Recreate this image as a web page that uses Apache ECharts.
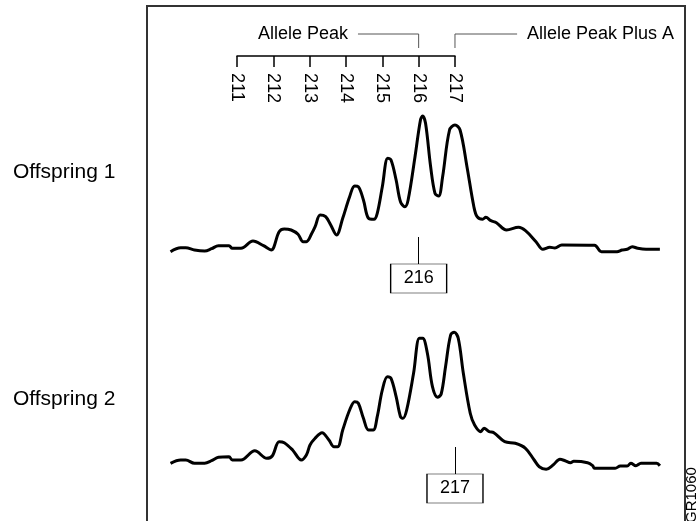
<!DOCTYPE html>
<html><head><meta charset="utf-8">
<script src="https://cdn.jsdelivr.net/npm/echarts@6/dist/echarts.min.js"></script>
<style>html,body{margin:0;padding:0;background:#fff}#c{width:699px;height:521px}</style>
</head><body><div id="c"></div>
<script>
// ---- data ----
const sizeTicks = [211, 212, 213, 214, 215, 216, 217];
const rowLabels = ['Offspring 1', 'Offspring 2'];
const calls = [216, 217];
const peakLabels = ['Allele Peak', 'Allele Peak Plus A'];
const offspring1 = [
  [209.17,8.3],[209.45,12.3],[209.59,12.3],[209.83,10],[210.11,9],[210.30,11.3],[210.49,14.3],[210.78,14.3],
  [210.87,11.7],[211.11,11.7],[211.44,19],[211.73,14.3],[211.94,10],[212.16,28.3],[212.30,31],[212.49,30],
  [212.68,25.7],[212.82,18.3],[212.91,18.3],[213.06,26.7],[213.15,33.3],[213.29,45],[213.44,43.3],[213.58,35],
  [213.74,25],[213.91,41.7],[214.10,63.3],[214.24,74],[214.34,73.3],[214.48,60],[214.62,41.7],[214.77,40.7],
  [214.86,46.7],[215.00,73.3],[215.15,101.7],[215.24,100],[215.38,80],[215.50,58.3],[215.62,53.3],[215.71,60],
  [215.90,103.3],[216.05,140],[216.11,144],[216.19,136.7],[216.33,93.3],[216.45,66.7],[216.55,64],[216.66,83.3],
  [216.85,130],[217.00,135],[217.14,130],[217.33,93.3],[217.52,53.3],[217.61,43.3],[217.76,40.7],[217.85,42.7],
  [217.99,39.3],[218.14,37.3],[218.42,30],[218.75,32.7],[218.94,29.3],[219.23,18.3],[219.42,10.7],[219.61,12.7],
  [219.75,12],[219.94,15],[220.84,14.7],[221.03,8.3],[221.46,8.3],[221.60,10],[221.74,10.7],[221.88,13.3],
  [222.03,11.7],[222.26,10.7],[222.64,10.7]
];
const offspring2 = [
  [209.17,6.7],[209.45,10],[209.59,10],[209.83,6.7],[210.11,6.7],[210.30,9.3],[210.49,12.7],[210.78,13.3],
  [210.87,10],[211.11,10],[211.49,19.3],[211.82,11.7],[211.97,14],[212.16,28.3],[212.30,27.3],[212.53,20],
  [212.77,10],[212.91,15],[213.01,25],[213.15,31.7],[213.34,37.3],[213.53,30],[213.67,23.3],[213.77,23.3],
  [213.91,40],[214.10,60],[214.24,68.3],[214.34,66.7],[214.48,51.7],[214.62,40],[214.75,40],[214.86,53.3],
  [215.00,80],[215.14,93.3],[215.24,91.7],[215.38,73.3],[215.50,53.3],[215.57,51.7],[215.67,60],[215.86,96.7],
  [216.02,131.7],[216.11,131.7],[216.24,116.7],[216.38,83.3],[216.52,72.7],[216.62,76],[216.74,103.3],[216.88,135],
  [216.98,137.7],[217.09,131.7],[217.23,96.7],[217.42,56.7],[217.54,45],[217.71,38.3],[217.80,41.7],[217.94,38.3],
  [218.07,37.3],[218.37,28.3],[218.66,26.7],[218.94,21.7],[219.18,10],[219.32,3.3],[219.51,0.7],[219.70,5],
  [219.89,10.7],[220.03,9.3],[220.18,7.3],[220.27,8.7],[220.65,7.3],[220.79,4.3],[220.84,1.7],[221.41,1.7],
  [221.55,4],[221.74,4],[221.84,6.7],[221.98,4.3],[222.12,6.7],[222.55,6.7],[222.64,4.3]
];

// ---- chart ----
const FONT = 'Liberation Sans, Arial, Helvetica, sans-serif';
const chart = echarts.init(document.getElementById('c'), null, {renderer: 'canvas'});

function callMarks(call) {
  return {
    markPoint: {
      symbol: 'rect', symbolSize: [56, 29], silent: true,
      itemStyle: {color: '#fff', borderColor: '#000', borderWidth: 1},
      label: {show: true, formatter: String(call), color: '#000', fontSize: 18, fontFamily: FONT},
      data: [{coord: [call, -18.5]}]
    },
    markLine: {
      symbol: 'none', silent: true, animation: false,
      lineStyle: {color: '#000', width: 1, type: 'solid'},
      label: {show: false},
      data: [[{coord: [call, 23]}, {coord: [call, -4]}]]
    }
  };
}

const traceX = (g) => ({gridIndex: g, type: 'value', min: 209, max: 223, show: false});
const traceY = (g) => ({gridIndex: g, type: 'value', min: -40, max: 160, show: false});

const option = {
  animation: false,
  backgroundColor: '#fff',
  grid: [
    {left: 237, right: 244, top: 20, height: 36},
    {left: 164.34, right: 26.04, top: 100, height: 200},
    {left: 164.34, right: 26.04, top: 310, height: 200},
    {left: 164.34, right: 26.04, top: 20, height: 36}
  ],
  xAxis: [
    {
      gridIndex: 0, type: 'value', min: sizeTicks[0], max: sizeTicks[sizeTicks.length - 1], interval: 1,
      position: 'bottom',
      axisLine: {show: true, lineStyle: {color: '#000', width: 1.5}},
      axisTick: {show: true, length: 11, inside: false, lineStyle: {color: '#000', width: 1.5}},
      axisLabel: {show: true, rotate: -90, margin: 17, fontSize: 18, color: '#000', fontFamily: FONT},
      splitLine: {show: false}
    },
    traceX(1), traceX(2), traceX(3)
  ],
  yAxis: [
    {gridIndex: 0, type: 'value', min: 0, max: 36, show: false},
    traceY(1), traceY(2),
    {gridIndex: 3, type: 'value', min: 0, max: 36, show: false}
  ],
  series: [
    {
      type: 'line', xAxisIndex: 3, yAxisIndex: 3, symbol: 'none', silent: true,
      lineStyle: {color: '#555', width: 1},
      data: [[214.33, 22], [calls[0], 22], [calls[0], 8]]
    },
    {
      type: 'line', xAxisIndex: 3, yAxisIndex: 3, symbol: 'none', silent: true,
      lineStyle: {color: '#555', width: 1},
      data: [[calls[1], 8], [calls[1], 22], [218.71, 22]]
    },
    Object.assign({
      type: 'line', xAxisIndex: 1, yAxisIndex: 1, symbol: 'none', smooth: 0.35, silent: true,
      lineStyle: {color: '#000', width: 3}, data: offspring1
    }, callMarks(calls[0])),
    Object.assign({
      type: 'line', xAxisIndex: 2, yAxisIndex: 2, symbol: 'none', smooth: 0.35, silent: true,
      lineStyle: {color: '#000', width: 3}, data: offspring2
    }, callMarks(calls[1]))
  ],
  graphic: [
    {type: 'rect', silent: true, shape: {x: 147, y: 6, width: 538, height: 530},
     style: {fill: 'none', stroke: '#333', lineWidth: 2}},
    {type: 'text', x: 258, y: 34, silent: true,
     style: {text: peakLabels[0], fontSize: 18, fontFamily: FONT, fill: '#000', align: 'left', verticalAlign: 'middle'}},
    {type: 'text', x: 527, y: 34, silent: true,
     style: {text: peakLabels[1], fontSize: 18, fontFamily: FONT, fill: '#000', align: 'left', verticalAlign: 'middle'}},
    {type: 'text', x: 13, y: 172, silent: true,
     style: {text: rowLabels[0], fontSize: 21, fontFamily: FONT, fill: '#000', align: 'left', verticalAlign: 'middle'}},
    {type: 'text', x: 13, y: 399, silent: true,
     style: {text: rowLabels[1], fontSize: 21, fontFamily: FONT, fill: '#000', align: 'left', verticalAlign: 'middle'}},
    {type: 'text', x: 699, y: 523, rotation: Math.PI / 2, silent: true,
     style: {text: 'GR1060', fontSize: 15, fontFamily: FONT, fill: '#000', align: 'left', verticalAlign: 'bottom'}}
  ]
};
chart.setOption(option);
</script>
</body></html>
